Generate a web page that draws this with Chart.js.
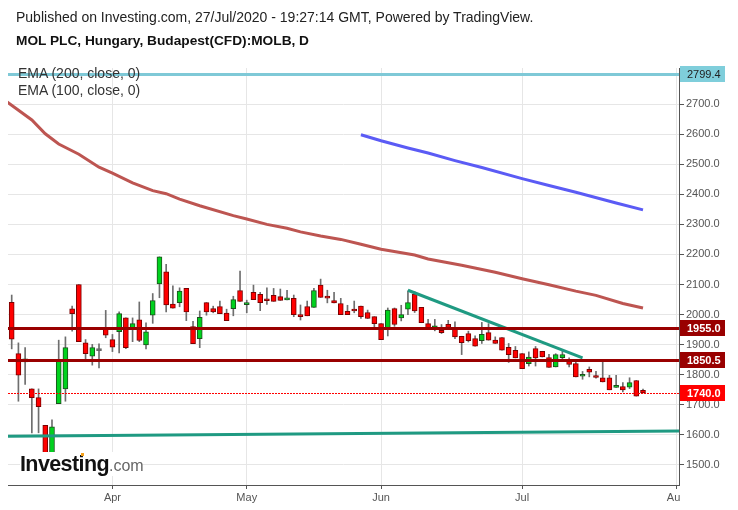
<!DOCTYPE html>
<html>
<head>
<meta charset="utf-8">
<script src="https://cdn.jsdelivr.net/npm/chart.js@4.4.1/dist/chart.umd.min.js"></script>
<style>
  body { margin: 0; background: #fff; }
  #wrap { position: relative; width: 738px; height: 510px; font-family: "Liberation Sans", Arial, sans-serif; }
  #wrap canvas { position: absolute; left: 0; top: 0; }
  .txt { position: absolute; white-space: nowrap; color: #222; font-size: 14px; }
  .bold { font-weight: bold; color: #111; font-size: 13.7px; }
  .leg { color: #333; }
  #logo { position: absolute; left: 20px; top: 452px; width: 122px; height: 24px; background: #fff; white-space: nowrap; line-height: 24px; }
  #logo .inv { font-weight: bold; font-size: 21.5px; color: #111; letter-spacing: -0.6px; }
  #logo .com { font-size: 16px; color: #666; }
  #logo .dot { position: absolute; left: 61px; top: 1px; width: 3px; height: 3px; background: #f5a01a; }
</style>
</head>
<body>
<div id="wrap">
  <canvas id="chart01" width="738" height="510"></canvas>
  <div class="txt" style="left:16px;top:9px">Published on Investing.com, 27/Jul/2020 - 19:27:14 GMT, Powered by TradingView.</div>
  <div class="txt bold" style="left:16px;top:33px">MOL PLC, Hungary, Budapest(CFD):MOLB, D</div>
  <div class="txt leg" style="left:18px;top:65px">EMA (200, close, 0)</div>
  <div class="txt leg" style="left:18px;top:82px">EMA (100, close, 0)</div>
  <div id="logo"><span class="inv">Investing</span><span class="com">.com</span><span class="dot"></span></div>
</div>
<script>
// daily candles, bar index 0 = first visible day (mid March) ... 94 = 27 Jul
const opens  = [2041,1870,1843,1753,1724,1632,1510,1704,1753,2019,2100,1906,1862,1880,1951,1917,1943,1989,1951,1983,
                1899,1998,2102,2142,2035,2040,2087,1960,1920,2040,2020,2027,2005,2020,2080,2033,2074,2067,2050,2064,
                2060,2049,2054,1998,2027,2024,2098,2060,2047,2037,2011,2017,2028,2007,1993,1970,1950,2020,1989,2018,
                2068,2024,1970,1950,1948,1968,1957,1928,1937,1920,1913,1940,1915,1924,1891,1881,1870,1837,1887,1878,
                1857,1826,1857,1851,1837,1795,1818,1793,1790,1790,1758,1761,1759,1781,1748]
const highs  = [2065,1906,1890,1753,1753,1632,1650,1915,1926,2028,2100,1917,1901,1903,2014,1934,2009,1989,1989,2042,
                1973,2070,2192,2167,2096,2089,2087,1978,2012,2040,2028,2045,2018,2061,2145,2048,2098,2074,2089,2087,
                2085,2081,2065,2032,2045,2087,2118,2081,2074,2054,2031,2045,2028,2015,1993,1970,2022,2022,2031,2079,
                2076,2024,1984,1984,1967,1981,1976,1928,1945,1929,1974,1970,1926,1924,1904,1894,1870,1876,1894,1878,
                1868,1870,1881,1856,1848,1811,1826,1811,1850,1798,1798,1774,1790,1781,1752]
const lows   = [1886,1712,1768,1607,1607,1490,1500,1704,1712,1945,1910,1845,1832,1823,1923,1877,1873,1887,1910,1910,
                1886,1971,2056,2009,2021,2026,1980,1903,1890,1998,2006,2003,1980,1996,2044,2006,2050,2013,2034,2044,
                2047,2049,1993,1982,1996,2024,2057,2039,2039,2000,2000,2006,1987,1987,1959,1917,1929,1961,1979,2000,
                2007,1973,1950,1946,1937,1957,1920,1867,1909,1895,1904,1915,1904,1882,1841,1856,1820,1829,1829,1859,
                1824,1826,1853,1826,1793,1785,1793,1789,1776,1750,1758,1743,1754,1729,1740]
const closes = [1918,1799,1853,1724,1694,1500,1627,1848,1890,2003,1910,1870,1890,1880,1932,1892,2003,1890,1970,1914,
                1943,2047,2192,2032,2021,2078,2009,1903,1991,2009,2009,2003,1980,2050,2044,2035,2050,2040,2046,2044,
                2047,2051,2000,1993,1996,2080,2057,2055,2039,2000,2000,2012,1993,1987,1970,1917,2015,1967,2000,2040,
                2012,1973,1950,1963,1940,1957,1926,1907,1913,1895,1934,1915,1904,1882,1867,1856,1820,1859,1856,1859,
                1824,1867,1867,1834,1793,1797,1809,1791,1776,1750,1760,1750,1774,1729,1740]

// EMA readings (bar index, value)
const ema100Idx = [-1,3,5,7,10,13,15,18,21,23,25,28,33,35,38,41,43,46,49,52,55,60,62,67,72,76,80,84,87,91,94]
const ema100Val = [2712,2647,2601,2567,2533,2490,2470,2438,2412,2402,2384,2362,2329,2318,2300,2287,2275,2261,2250,2234,
                   2217,2198,2185,2164,2141,2119,2099,2078,2064,2037,2022]
const ema200Idx = [52,55,59,62,66,70,76,80,84,90,94]
const ema200Val = [2598,2578,2554,2537,2512,2489,2452,2429,2407,2371,2348]

// drawn trend lines (bar index, price)
const trendUpIdx = [59,85]
const trendUpVal = [2081,1856]
const trendLowIdx = [-5,105]
const trendLowVal = [1595,1614]

// horizontal levels with price boxes
const levelVals = [2799.4, 1955.0, 1850.5, 1740.0]

const yTicks = [1500,1600,1700,1800,1900,2000,2100,2200,2300,2400,2500,2600,2700]
const monthNames = ['Apr','May','Jun','Jul','Aug']
const monthIdx = [15,35,55,76,99]

const RED = '#ff0000', RED_EDGE = '#7a0000', GREEN = '#00d21e', GREEN_EDGE = '#1d4f1d'
const levelStyle = [
    {line: '#7fc9d7', width: 3, dotted: false, box: '#7fcedb', text: '#222', bold: false},
    {line: '#990000', width: 3, dotted: false, box: '#990000', text: '#fff', bold: true},
    {line: '#990000', width: 3, dotted: false, box: '#990000', text: '#fff', bold: true},
    {line: '#ff0000', width: 1, dotted: true, box: '#ff0000', text: '#fff', bold: true}
]

const bodies = opens.map((o, i) => ({x: i, y: [o, closes[i]]}))
const wicks = opens.map((o, i) => ({x: i, y: [lows[i], highs[i]]}))
const pts = (xs, ys) => xs.map((x, i) => ({x: x, y: ys[i]}))

const bodyFill = ctx => {
    const i = ctx.dataIndex
    if (closes[i] > opens[i]) return GREEN
    if (closes[i] < opens[i]) return RED
    return '#666'
}
const bodyEdge = ctx => {
    const i = ctx.dataIndex
    if (closes[i] > opens[i]) return GREEN_EDGE
    if (closes[i] < opens[i]) return RED_EDGE
    return '#666'
}

const levelsPlugin = {
    id: 'levels',
    afterDatasetsDraw(chart) {
        const {ctx, chartArea, scales} = chart
        ctx.save()
        levelVals.forEach((v, k) => {
            const st = levelStyle[k]
            const y = Math.round(scales.y.getPixelForValue(v))
            ctx.fillStyle = st.line
            if (st.dotted) {
                // 2px on, 1px off, pixel aligned
                for (let x = chartArea.left; x < chartArea.right; x += 3) {
                    ctx.fillRect(x, y, Math.min(2, chartArea.right - x), 1)
                }
            } else {
                ctx.fillRect(chartArea.left, y - Math.floor(st.width / 2), chartArea.right - chartArea.left, st.width)
            }
        })
        ctx.restore()
    },
    afterDraw(chart) {
        const {ctx, chartArea, scales} = chart
        ctx.save()
        // hide the part of the last month label that runs past the plot
        ctx.fillStyle = '#fff'
        ctx.fillRect(chartArea.right + 1, chartArea.bottom + 1, chart.width - chartArea.right, chart.height - chartArea.bottom)
        levelVals.forEach((v, k) => {
            const st = levelStyle[k]
            const y = Math.round(scales.y.getPixelForValue(v))
            ctx.fillStyle = st.box
            ctx.fillRect(chartArea.right + 1, y - 8, 45, 16)
            ctx.fillStyle = st.text
            ctx.font = (st.bold ? 'bold ' : '') + '11px "Liberation Sans", Arial, sans-serif'
            ctx.textBaseline = 'middle'
            ctx.textAlign = 'left'
            ctx.fillText(v.toFixed(1), chartArea.right + 8, y + 0.5)
        })
        ctx.restore()
    }
}

Chart.defaults.font.family = '"Liberation Sans", Arial, sans-serif'
Chart.defaults.font.size = 11
Chart.defaults.color = '#555'

const chart01 = new Chart(document.getElementById('chart01').getContext('2d'), {
    type: 'bar',
    data: {
        datasets: [
            {type: 'line', data: pts(trendUpIdx, trendUpVal), borderColor: '#1f9a82', borderWidth: 3, pointRadius: 0, clip: 0, order: -2},
            {type: 'line', data: pts(trendLowIdx, trendLowVal), borderColor: '#1f9a82', borderWidth: 3, pointRadius: 0, clip: 0, order: -2},
            {type: 'line', data: pts(ema200Idx, ema200Val), borderColor: '#5b5bf5', borderWidth: 3, pointRadius: 0, clip: 0, order: -1},
            {type: 'line', data: pts(ema100Idx, ema100Val), borderColor: '#bd5551', borderWidth: 3, pointRadius: 0, clip: 0, order: -1},
            {data: bodies, backgroundColor: bodyFill, borderColor: bodyEdge, borderWidth: 1, borderSkipped: false,
             barThickness: 5, minBarLength: 2, grouped: false, order: 0},
            {data: wicks, backgroundColor: '#6e6e6e', borderWidth: 0, barThickness: 1, grouped: false, order: 1}
        ]
    },
    options: {
        responsive: false,
        animation: false,
        events: [],
        layout: {padding: {left: 8, top: 68, right: 0, bottom: 0}},
        plugins: {legend: {display: false}, tooltip: {enabled: false}},
        scales: {
            x: {
                type: 'linear',
                offset: false,
                min: -0.55,
                max: 99.36,
                afterBuildTicks: s => { s.ticks = monthIdx.map(v => ({value: v})) },
                afterFit: s => { s.height = 25 },
                ticks: {
                    autoSkip: false,
                    maxRotation: 0,
                    padding: 2,
                    color: '#555',
                    callback: v => monthNames[monthIdx.indexOf(v)]
                },
                grid: {offset: false, color: '#e6e6e6', tickColor: '#555', tickLength: 4},
                border: {color: '#555'}
            },
            y: {
                position: 'right',
                min: 1433.5,
                max: 2819.8,
                afterBuildTicks: s => { s.ticks = yTicks.map(v => ({value: v})) },
                afterFit: s => { s.width = 59 },
                ticks: {
                    padding: 2,
                    color: '#555',
                    callback: v => v.toFixed(1)
                },
                grid: {color: '#e6e6e6', tickColor: '#555', tickLength: 5},
                border: {color: '#555'}
            }
        }
    },
    plugins: [levelsPlugin]
});
</script>
</body>
</html>
